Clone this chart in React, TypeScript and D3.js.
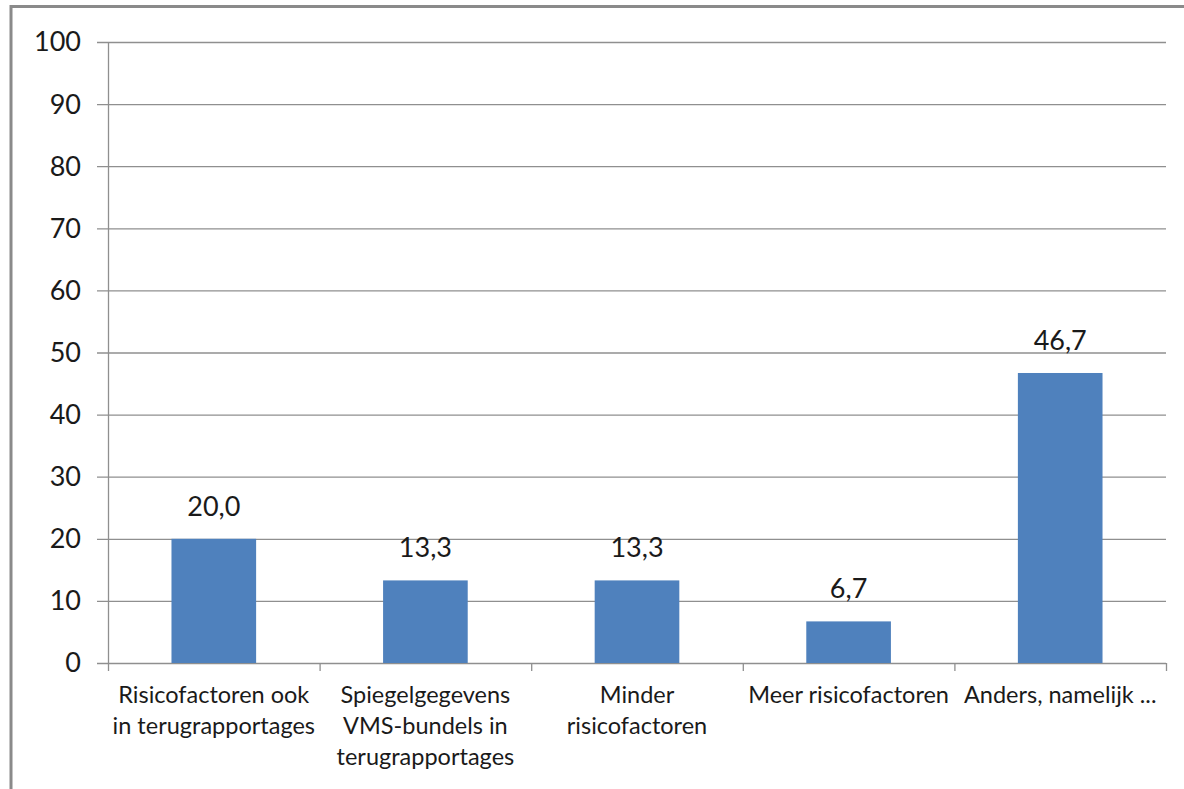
import React from "react";
import * as d3 from "d3";

const categories: string[][] = [
  ["Risicofactoren ook", "in terugrapportages"],
  ["Spiegelgegevens", "VMS-bundels in", "terugrapportages"],
  ["Minder", "risicofactoren"],
  ["Meer risicofactoren"],
  ["Anders, namelijk ..."],
];
const values: number[] = [20.0, 13.3, 13.3, 6.7, 46.7];
const yTicks: number[] = [0, 10, 20, 30, 40, 50, 60, 70, 80, 90, 100];

const W = 1184;
const H = 789;
const plot = { left: 108, right: 1166, top: 42, bottom: 663 };
const FONT = "Lato, 'Liberation Sans', sans-serif";
const BAR = "#4F81BD";
const GRID = "#8f8f8f";
const TEXT = "#1a1a1a";

export default function App() {
  const x = d3
    .scaleBand<number>()
    .domain(d3.range(categories.length))
    .range([plot.left, plot.right])
    .paddingInner(0.6)
    .paddingOuter(0.3);
  const step = (plot.right - plot.left) / categories.length;
  const y = d3.scaleLinear().domain([0, 100]).range([plot.bottom, plot.top]);
  const fmt = (v: number) => d3.format(".1f")(v).replace(".", ",");

  return (
    <div style={{ position: "fixed", left: 0, top: 0 }}>
      <svg width={W} height={H} style={{ display: "block", background: "#fff" }}>
        {/* chart frame */}
        <rect x={11} y={6.5} width={W + 20} height={H + 20} fill="none" stroke="#8a8a8a" strokeWidth={3} />

        {/* horizontal gridlines with left tick extensions */}
        {yTicks.map((t) => (
          <line key={`g${t}`} x1={plot.left - 11} x2={plot.right} y1={y(t) + 0.5} y2={y(t) + 0.5} stroke={GRID} strokeWidth={1.3} />
        ))}
        {/* y-axis line */}
        <line x1={plot.left + 0.5} x2={plot.left + 0.5} y1={plot.top} y2={plot.bottom} stroke={GRID} strokeWidth={1.3} />
        {/* category boundary ticks */}
        {d3.range(categories.length + 1).map((i) => (
          <line
            key={`t${i}`}
            x1={plot.left + i * step + 0.5}
            x2={plot.left + i * step + 0.5}
            y1={plot.bottom}
            y2={plot.bottom + 8}
            stroke={GRID}
            strokeWidth={1.3}
          />
        ))}

        {/* y tick labels */}
        {yTicks.map((t) => (
          <text key={`yl${t}`} x={81} y={y(t)} dy="0.35em" textAnchor="end" fontFamily={FONT} fontSize={27} fill={TEXT}>
            {t}
          </text>
        ))}

        {/* bars */}
        {values.map((v, i) => (
          <rect key={`b${i}`} x={x(i)!} y={y(v)} width={x.bandwidth()} height={y(0) - y(v)} fill={BAR} />
        ))}

        {/* value labels */}
        {values.map((v, i) => (
          <text
            key={`v${i}`}
            x={x(i)! + x.bandwidth() / 2}
            y={y(v) - 23}
            textAnchor="middle"
            fontFamily={FONT}
            fontSize={27}
            fill={TEXT}
          >
            {fmt(v)}
          </text>
        ))}

        {/* category labels */}
        {categories.map((lines, i) => (
          <text key={`c${i}`} textAnchor="middle" fontFamily={FONT} fontSize={23.5} fill={TEXT}>
            {lines.map((ln, j) => (
              <tspan key={j} x={plot.left + (i + 0.5) * step} y={703 + j * 31}>
                {ln}
              </tspan>
            ))}
          </text>
        ))}
      </svg>
    </div>
  );
}
